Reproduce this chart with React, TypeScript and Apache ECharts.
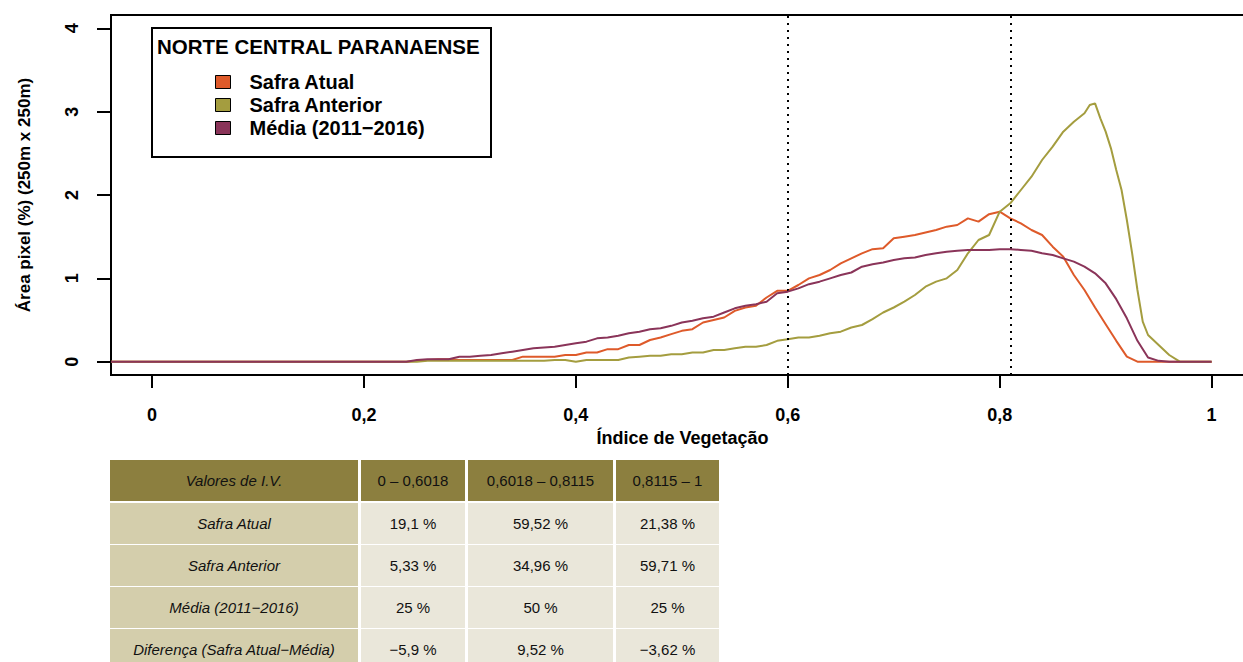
import React, { useEffect, useRef } from "react";
import * as echarts from "echarts";

// ---------- data ----------
const regionName = "NORTE CENTRAL PARANAENSE";
const seriesNames = ["Safra Atual", "Safra Anterior", "Média (2011−2016)"];
const seriesColors = ["#DE5A2A", "#A49D3F", "#8A3459"];

const safraAtual: [number, number][] = [
  [-0.0387, 0], [0.24, 0], [0.25, 0.01], [0.26, 0.02], [0.27, 0.03], [0.28, 0.03], [0.29, 0.02],
  [0.30, 0.02], [0.31, 0.02], [0.32, 0.02], [0.33, 0.02], [0.34, 0.02], [0.35, 0.06], [0.36, 0.06],
  [0.37, 0.06], [0.38, 0.06], [0.39, 0.08], [0.40, 0.08], [0.41, 0.11], [0.42, 0.11], [0.43, 0.15],
  [0.44, 0.15], [0.45, 0.20], [0.46, 0.20], [0.47, 0.26], [0.48, 0.29], [0.49, 0.33], [0.50, 0.37],
  [0.51, 0.39], [0.52, 0.47], [0.53, 0.50], [0.54, 0.53], [0.55, 0.61], [0.56, 0.65], [0.57, 0.67],
  [0.58, 0.77], [0.59, 0.85], [0.60, 0.85], [0.61, 0.92], [0.62, 1.0], [0.63, 1.04], [0.64, 1.10],
  [0.65, 1.18], [0.66, 1.24], [0.67, 1.30], [0.68, 1.35], [0.69, 1.36], [0.70, 1.48], [0.71, 1.50],
  [0.72, 1.52], [0.73, 1.55], [0.74, 1.58], [0.75, 1.62], [0.76, 1.64], [0.77, 1.72], [0.78, 1.68],
  [0.79, 1.77], [0.80, 1.80], [0.81, 1.72], [0.82, 1.66], [0.83, 1.58], [0.84, 1.52], [0.85, 1.38],
  [0.86, 1.26], [0.87, 1.04], [0.88, 0.86], [0.89, 0.65], [0.90, 0.45], [0.91, 0.25], [0.92, 0.06],
  [0.93, 0], [1.0, 0],
];

const safraAnterior: [number, number][] = [
  [-0.0387, 0], [0.25, 0], [0.26, 0.01], [0.30, 0.01], [0.37, 0.01], [0.38, 0.02], [0.39, 0.02],
  [0.40, 0.0], [0.41, 0.02], [0.44, 0.02], [0.45, 0.05], [0.46, 0.06], [0.47, 0.07], [0.48, 0.07],
  [0.49, 0.09], [0.50, 0.09], [0.51, 0.11], [0.52, 0.11], [0.53, 0.14], [0.54, 0.14], [0.55, 0.16],
  [0.56, 0.18], [0.57, 0.18], [0.58, 0.20], [0.59, 0.25], [0.60, 0.27], [0.61, 0.29], [0.62, 0.29],
  [0.63, 0.31], [0.64, 0.34], [0.65, 0.36], [0.66, 0.41], [0.67, 0.44], [0.68, 0.51], [0.69, 0.59],
  [0.70, 0.65], [0.71, 0.72], [0.72, 0.80], [0.73, 0.90], [0.74, 0.96], [0.75, 1.00], [0.76, 1.10],
  [0.77, 1.30], [0.78, 1.46], [0.79, 1.52], [0.80, 1.80], [0.81, 1.90], [0.82, 2.06], [0.83, 2.22],
  [0.84, 2.42], [0.85, 2.58], [0.86, 2.76], [0.87, 2.88], [0.88, 2.98], [0.885, 3.08], [0.89, 3.10],
  [0.895, 2.92], [0.90, 2.76], [0.905, 2.56], [0.91, 2.30], [0.915, 2.06], [0.92, 1.70], [0.925, 1.30],
  [0.93, 0.86], [0.935, 0.48], [0.94, 0.32], [0.95, 0.20], [0.96, 0.08], [0.97, 0], [1.0, 0],
];

const mediaHistorica: [number, number][] = [
  [-0.0387, 0], [0.24, 0], [0.25, 0.02], [0.26, 0.03], [0.27, 0.03], [0.28, 0.03], [0.29, 0.06],
  [0.30, 0.06], [0.31, 0.07], [0.32, 0.08], [0.33, 0.10], [0.34, 0.12], [0.35, 0.14], [0.36, 0.16],
  [0.37, 0.17], [0.38, 0.18], [0.39, 0.20], [0.40, 0.22], [0.41, 0.24], [0.42, 0.28], [0.43, 0.29],
  [0.44, 0.31], [0.45, 0.34], [0.46, 0.36], [0.47, 0.39], [0.48, 0.40], [0.49, 0.43], [0.50, 0.47],
  [0.51, 0.49], [0.52, 0.52], [0.53, 0.54], [0.54, 0.59], [0.55, 0.64], [0.56, 0.67], [0.57, 0.69],
  [0.58, 0.72], [0.59, 0.82], [0.60, 0.84], [0.61, 0.88], [0.62, 0.93], [0.63, 0.96], [0.64, 1.0],
  [0.65, 1.04], [0.66, 1.07], [0.67, 1.14], [0.68, 1.17], [0.69, 1.19], [0.70, 1.22], [0.71, 1.24],
  [0.72, 1.25], [0.73, 1.28], [0.74, 1.30], [0.75, 1.32], [0.76, 1.33], [0.77, 1.34], [0.78, 1.34],
  [0.79, 1.34], [0.80, 1.35], [0.81, 1.35], [0.82, 1.34], [0.83, 1.33], [0.84, 1.30], [0.85, 1.28],
  [0.86, 1.24], [0.87, 1.20], [0.88, 1.14], [0.89, 1.06], [0.90, 0.94], [0.91, 0.75], [0.92, 0.52],
  [0.93, 0.25], [0.94, 0.05], [0.95, 0.01], [0.96, 0], [1.0, 0],
];

const xTicks = [0, 0.2, 0.4, 0.6, 0.8, 1];
const yTicks = [0, 1, 2, 3, 4];
const ivLimits = [0.6018, 0.8115];
const xAxisTitle = "Índice de Vegetação";
const yAxisTitle = "Área pixel (%) (250m x 250m)";

const tableHeader = ["Valores de I.V.", "0 – 0,6018", "0,6018 – 0,8115", "0,8115 – 1"];
const tableRowLabels = ["Safra Atual", "Safra Anterior", "Média (2011−2016)", "Diferença (Safra Atual−Média)"];
const tableValues = [
  ["19,1 %", "59,52 %", "21,38 %"],
  ["5,33 %", "34,96 %", "59,71 %"],
  ["25 %", "50 %", "25 %"],
  ["−5,9 %", "9,52 %", "−3,62 %"],
];

// ---------- layout ----------
const FONT = "'Liberation Sans', Arial, sans-serif";
const GRID = { left: 111, top: 15, width: 1143, height: 360 };
const colX = [110, 361, 468, 616];
const colW = [248, 104, 145, 103];
const rowTop = [460, 503, 545, 587, 629];
const rowH = 41;
const headerBg = "#8C7F3F";
const firstColBg = "#D4CEAC";
const cellBg = "#EAE7DA";

function fmtNum(v: number) {
  return String(v).replace(".", ",");
}

function buildTable(): any[] {
  const els: any[] = [];
  const rows = [tableHeader, ...tableRowLabels.map((l, i) => [l, ...tableValues[i]])];
  rows.forEach((row, r) => {
    row.forEach((txt, c) => {
      const bg = r === 0 ? headerBg : c === 0 ? firstColBg : cellBg;
      els.push({
        type: "rect",
        shape: { x: colX[c], y: rowTop[r], width: colW[c], height: rowH },
        style: { fill: bg },
        silent: true,
      });
      els.push({
        type: "text",
        x: colX[c] + colW[c] / 2,
        y: rowTop[r] + rowH / 2,
        style: {
          text: txt,
          fill: "#111",
          font: `${c === 0 ? "italic " : ""}15px ${FONT}`,
          textAlign: "center",
          textVerticalAlign: "middle",
          align: "center",
          verticalAlign: "middle",
        },
        silent: true,
      });
    });
  });
  return els;
}

export default function App() {
  const ref = useRef<HTMLDivElement>(null);
  useEffect(() => {
    const chart = echarts.init(ref.current!, null, { renderer: "svg" });
    const dataSets = [safraAtual, safraAnterior, mediaHistorica];
    const series: any[] = dataSets.map((d, i) => ({
      name: seriesNames[i],
      type: "line",
      data: d,
      showSymbol: false,
      symbol: "none",
      color: seriesColors[i],
      lineStyle: { color: seriesColors[i], width: 2 },
      itemStyle: { color: seriesColors[i] },
      z: 3 + i,
    }));
    series[2].markLine = {
      silent: true,
      symbol: ["none", "none"],
      label: { show: false },
      lineStyle: { color: "#000", type: [2, 5], width: 2 },
      data: ivLimits.map((v) => ({ xAxis: v })),
    };

    const option: any = {
      animation: false,
      backgroundColor: "#fff",
      textStyle: { fontFamily: FONT },
      grid: {
        ...GRID,
        show: true,
        borderColor: "#000",
        borderWidth: 2,
        backgroundColor: "transparent",
        containLabel: false,
      },
      xAxis: {
        type: "value",
        min: -0.0387,
        max: 1.04,
        axisLine: { show: false, onZero: false },
        splitLine: { show: false },
        axisTick: { show: true, customValues: xTicks, length: 13, lineStyle: { color: "#000", width: 2 } },
        axisLabel: {
          customValues: xTicks,
          formatter: (v: number) => fmtNum(v),
          color: "#000",
          fontWeight: "bold",
          fontSize: 18,
          fontFamily: FONT,
          margin: 31,
        },
        name: xAxisTitle,
        nameLocation: "middle",
        nameGap: 53,
        nameTextStyle: { color: "#000", fontWeight: "bold", fontSize: 18, fontFamily: FONT },
      },
      yAxis: {
        type: "value",
        min: -0.16,
        max: 4.16,
        axisLine: { show: false, onZero: false },
        splitLine: { show: false },
        axisTick: { show: true, customValues: yTicks, length: 14, lineStyle: { color: "#000", width: 2 } },
        axisLabel: {
          customValues: yTicks,
          formatter: (v: number) => fmtNum(v),
          rotate: 90,
          color: "#000",
          fontWeight: "bold",
          fontSize: 18,
          fontFamily: FONT,
          margin: 30,
        },
        name: yAxisTitle,
        nameLocation: "middle",
        nameGap: 78,
        nameTextStyle: { color: "#000", fontWeight: "bold", fontSize: 17, fontFamily: FONT },
      },
      legend: {
        data: seriesNames,
        orient: "vertical",
        left: 215,
        top: 72,
        padding: 0,
        itemWidth: 15,
        itemHeight: 13,
        itemGap: 3,
        icon: "rect",
        itemStyle: { borderColor: "#000", borderWidth: 1 },
        textStyle: { color: "#000", fontWeight: "bold", fontSize: 20, fontFamily: FONT, padding: [0, 0, 0, 14] },
        selectedMode: false,
        z: 10,
      },
      graphic: [
        {
          type: "rect",
          shape: { x: 152, y: 28, width: 339, height: 129 },
          style: { fill: "#fff", stroke: "#000", lineWidth: 2 },
          z: 5,
          silent: true,
        },
        {
          type: "text",
          x: 157,
          y: 46,
          style: {
            text: regionName,
            fill: "#000",
            font: `bold 20.5px ${FONT}`,
            textVerticalAlign: "middle",
            verticalAlign: "middle",
          },
          z: 6,
          silent: true,
        },
        ...buildTable(),
      ],
      series,
    };
    chart.setOption(option);
    return () => chart.dispose();
  }, []);
  return (
    <div style={{ position: "fixed", left: 0, top: 0, width: 1243, height: 662, overflow: "hidden", background: "#fff" }}>
      <div ref={ref} style={{ width: 1280, height: 662 }} />
    </div>
  );
}
